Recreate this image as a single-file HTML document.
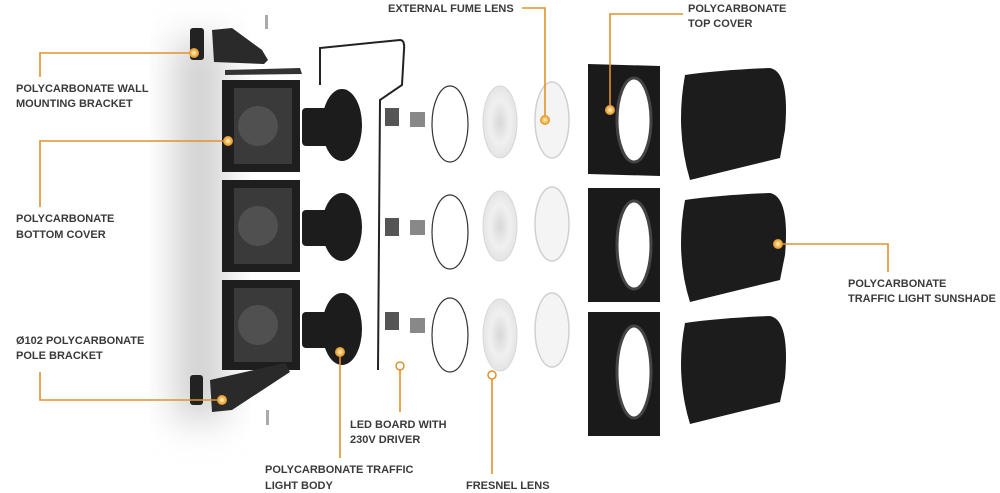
<!DOCTYPE html>
<html><head><meta charset="utf-8"><style>
html,body{margin:0;padding:0;background:#fff;}
svg{display:block}
text{font-family:"Liberation Sans",sans-serif;font-weight:bold;font-size:11px;fill:#3a3a3a;}
</style></head><body>
<svg width="1000" height="493" viewBox="0 0 1000 493">
<defs>
<filter id="bl" x="-50%" y="-20%" width="200%" height="140%"><feGaussianBlur stdDeviation="18"/></filter>
<radialGradient id="dot"><stop offset="0" stop-color="#fff6d0"/><stop offset="0.5" stop-color="#f4c060"/><stop offset="1" stop-color="#e0902a"/></radialGradient>
<radialGradient id="fr"><stop offset="0" stop-color="#d8d8d8"/><stop offset="0.6" stop-color="#f0f0f0"/><stop offset="1" stop-color="#e4e4e4"/></radialGradient>
</defs>
<rect x="175" y="40" width="50" height="380" fill="#cfcfcf" filter="url(#bl)"/>
<!-- wall bracket -->
<rect x="190" y="28" width="14" height="32" rx="3" fill="#222"/>
<path d="M212 30 L232 28 L262 50 L268 60 L264 64 L214 62 Z" fill="#2a2a2a"/>
<rect x="265" y="15" width="3" height="14" fill="#aaa"/>
<path d="M225 70 L300 68 L302 74 L225 75 Z" fill="#333"/>
<!-- housings -->
<g fill="#1e1e1e">
<rect x="222" y="80" width="78" height="92"/>
<rect x="222" y="180" width="78" height="92"/>
<rect x="222" y="280" width="78" height="90"/>
</g>
<g fill="#3a3a3a">
<rect x="234" y="88" width="58" height="76"/><rect x="234" y="188" width="58" height="76"/><rect x="234" y="288" width="58" height="74"/>
</g>
<g fill="#505050"><circle cx="258" cy="126" r="20"/><circle cx="258" cy="226" r="20"/><circle cx="258" cy="325" r="20"/></g>
<!-- pole bracket -->
<rect x="190" y="375" width="13" height="30" rx="3" fill="#222"/>
<path d="M210 380 L285 363 L290 372 L232 410 L212 412 Z" fill="#2a2a2a"/>
<rect x="266" y="410" width="3" height="15" fill="#aaa"/>
<!-- cones -->
<g fill="#1c1c1c">
<rect x="302" y="108" width="30" height="38" rx="4"/><ellipse cx="342" cy="125" rx="20" ry="36"/>
<rect x="302" y="210" width="30" height="36" rx="4"/><ellipse cx="342" cy="227" rx="20" ry="34"/>
<rect x="302" y="312" width="30" height="36" rx="4"/><ellipse cx="342" cy="329" rx="20" ry="36"/>
</g>
<!-- wire -->
<path d="M320 85 L320 48 L400 40 Q405 40 404 50 L402 85 L380 100 L378 370" fill="none" stroke="#222" stroke-width="2"/>
<g fill="#555"><rect x="385" y="108" width="14" height="18"/><rect x="410" y="112" width="15" height="15" fill="#888"/>
<rect x="385" y="218" width="14" height="18"/><rect x="410" y="220" width="15" height="15" fill="#888"/>
<rect x="385" y="312" width="14" height="18"/><rect x="410" y="318" width="15" height="15" fill="#888"/></g>
<!-- rings & lenses -->
<g fill="none" stroke="#333" stroke-width="1.2">
<ellipse cx="450" cy="124" rx="18" ry="38"/><ellipse cx="450" cy="232" rx="18" ry="37"/><ellipse cx="450" cy="335" rx="18" ry="37"/></g>
<g fill="url(#fr)" stroke="#d8d8d8"><ellipse cx="500" cy="122" rx="17" ry="36"/><ellipse cx="500" cy="226" rx="17" ry="35"/><ellipse cx="500" cy="335" rx="17" ry="36"/></g>
<g fill="#f4f4f4" stroke="#d0d0d0" stroke-width="1.5"><ellipse cx="552" cy="120" rx="17" ry="38"/><ellipse cx="552" cy="224" rx="17" ry="37"/><ellipse cx="552" cy="330" rx="17" ry="37"/></g>
<!-- top covers -->
<g>
<path d="M588 64 L660 66 L660 176 L588 174 Z" fill="#1a1a1a"/><ellipse cx="634" cy="120" rx="17" ry="42" fill="#fff" stroke="#444" stroke-width="3"/>
<path d="M588 188 L660 188 L660 302 L588 302 Z" fill="#1a1a1a"/><ellipse cx="634" cy="245" rx="17" ry="44" fill="#fff" stroke="#444" stroke-width="3"/>
<path d="M588 312 L660 312 L660 436 L588 436 Z" fill="#1a1a1a"/><ellipse cx="634" cy="372" rx="17" ry="46" fill="#fff" stroke="#444" stroke-width="3"/>
</g>
<!-- sunshades -->
<g fill="#1c1c1c">
<path d="M685 75 Q720 70 770 68 Q790 72 785 130 L780 158 Q730 170 690 180 Q675 130 685 75 Z"/>
<path d="M685 200 Q720 195 770 193 Q790 197 785 255 L780 280 Q730 292 690 302 Q675 255 685 200 Z"/>
<path d="M685 323 Q720 318 770 316 Q790 320 785 378 L780 402 Q730 414 690 424 Q675 375 685 323 Z"/>
</g>
<!-- leaders -->
<g fill="none" stroke="#e0922c" stroke-width="1.6">
<path d="M40 77 L40 53 L194 53"/><path d="M40 207 L40 141 L228 141"/><path d="M40 372 L40 400 L222 400"/>
<path d="M400 368 L400 412"/><path d="M340 352 L340 458"/><path d="M492 378 L492 474"/>
<path d="M522 8 L545 8 L545 120"/><path d="M683 14 L610 14 L610 110"/><path d="M778 244 L888 244 L888 272"/>
</g>
<g fill="url(#dot)"><circle cx="194" cy="53" r="5"/><circle cx="228" cy="141" r="5"/><circle cx="222" cy="400" r="5"/><circle cx="340" cy="352" r="5"/><circle cx="545" cy="120" r="5"/><circle cx="610" cy="110" r="5"/><circle cx="778" cy="244" r="5"/></g>
<g fill="#fff" stroke="#e0922c" stroke-width="1.5"><circle cx="400" cy="366" r="4"/><circle cx="492" cy="375" r="4"/></g>
<!-- labels -->
<text x="16" y="92">POLYCARBONATE WALL</text><text x="16" y="107">MOUNTING BRACKET</text>
<text x="16" y="222">POLYCARBONATE</text><text x="16" y="238">BOTTOM COVER</text>
<text x="16" y="344">Ø102 POLYCARBONATE</text><text x="16" y="359">POLE BRACKET</text>
<text x="350" y="428">LED BOARD WITH</text><text x="350" y="443">230V DRIVER</text>
<text x="265" y="473">POLYCARBONATE TRAFFIC</text><text x="265" y="489">LIGHT BODY</text>
<text x="466" y="489">FRESNEL LENS</text>
<text x="388" y="12">EXTERNAL FUME LENS</text>
<text x="688" y="12">POLYCARBONATE</text><text x="688" y="27">TOP COVER</text>
<text x="848" y="287">POLYCARBONATE</text><text x="848" y="302">TRAFFIC LIGHT SUNSHADE</text>
</svg>
</body></html>
